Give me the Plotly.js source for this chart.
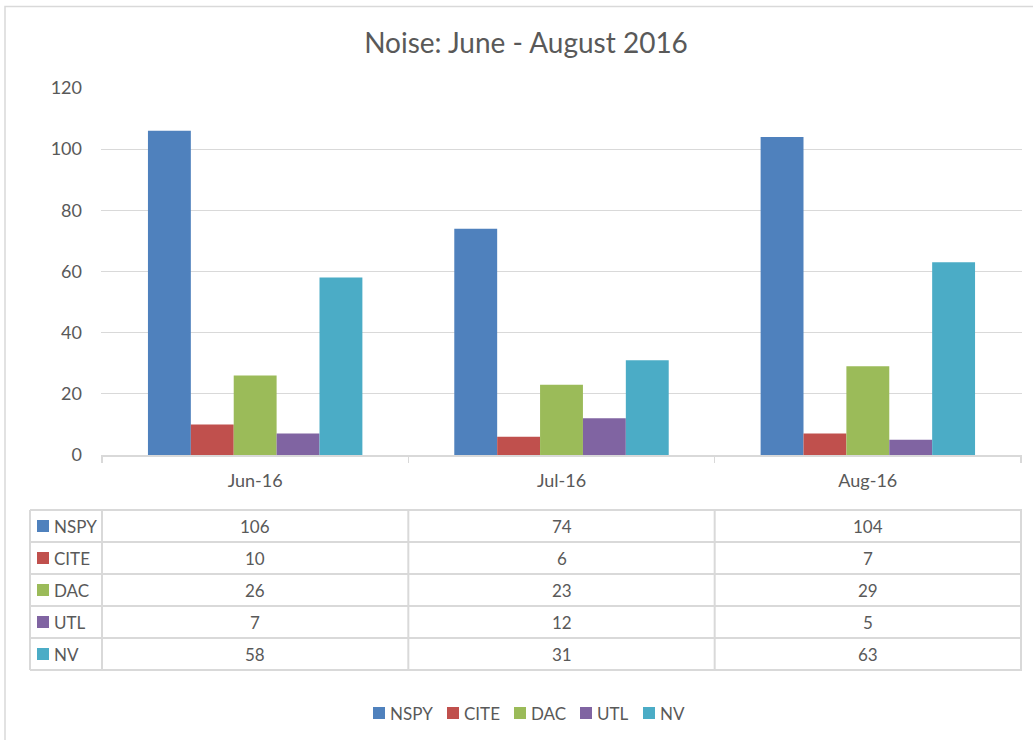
<!DOCTYPE html>
<html>
<head>
<meta charset="utf-8">
<script src="https://cdn.plot.ly/plotly-3.0.1.min.js"></script>
<style>html,body{margin:0;padding:0;background:#fff;}#chart{width:1033px;height:740px;}</style>
</head>
<body>
<div id="chart"></div>
<script>
// ---- data ----
var categories = ["Jun-16", "Jul-16", "Aug-16"];
var seriesNames = ["NSPY", "CITE", "DAC", "UTL", "NV"];
var NSPY = [106, 74, 104];
var CITE = [10, 6, 7];
var DAC = [26, 23, 29];
var UTL = [7, 12, 5];
var NV = [58, 31, 63];
var yTicks = [0, 20, 40, 60, 80, 100, 120];
var titleText = "Noise: June - August 2016";

// ---- styles ----
var colors = ["#4F81BD", "#C0504D", "#9BBB59", "#8064A2", "#4BACC6"];
var seriesValues = [NSPY, CITE, DAC, UTL, NV];
var FONT = "Lato, 'Open Sans', sans-serif";
var TXT = "#595959";
var GRID = "#D9D9D9";

var W = 1033, H = 740;
var L = 101, R = 11, T = 88, B = 285;
var plotW = W - L - R, plotH = H - T - B;
function px(x) { return (x - L) / plotW; }
function py(y) { return (H - B - y) / plotH; }

var traces = seriesNames.map(function (n, i) {
  return {
    type: "bar", name: n, x: categories, y: seriesValues[i],
    marker: { color: colors[i], line: { width: 0 } },
    showlegend: false, hoverinfo: "x+y+name"
  };
});

var shapes = [];
var annotations = [];

// chart outer border (top-left visible)
shapes.push({ type: "rect", xref: "paper", yref: "paper", x0: px(5), x1: px(1060), y0: py(6.5), y1: py(760),
  line: { color: GRID, width: 1.5 }, fillcolor: "rgba(0,0,0,0)", layer: "below" });

// data table
var rowTop = 510, rowH = 32, nRows = seriesNames.length;
var tableLeft = 30;
for (var k = 0; k <= nRows; k++) {
  shapes.push({ type: "line", xref: "paper", yref: "paper", x0: px(tableLeft), x1: 1, y0: py(rowTop + k * rowH), y1: py(rowTop + k * rowH),
    line: { color: GRID, width: 2 } });
}
shapes.push({ type: "line", xref: "paper", yref: "paper", x0: px(tableLeft), x1: px(tableLeft), y0: py(rowTop), y1: py(rowTop + nRows * rowH), line: { color: GRID, width: 2 } });
for (var j = 0; j <= categories.length; j++) {
  shapes.push({ type: "line", xref: "x", yref: "paper", x0: j - 0.5, x1: j - 0.5, y0: py(rowTop), y1: py(rowTop + nRows * rowH), line: { color: GRID, width: 2 } });
}
seriesNames.forEach(function (n, i) {
  var cy = rowTop + i * rowH + rowH / 2;
  shapes.push({ type: "rect", xref: "paper", yref: "paper", x0: px(37), x1: px(49), y0: py(cy - 6), y1: py(cy + 6),
    fillcolor: colors[i], line: { width: 0 } });
  annotations.push({ xref: "paper", yref: "paper", x: px(52), y: py(cy), xanchor: "left", yanchor: "middle", showarrow: false,
    text: n, font: { family: FONT, size: 17, color: TXT } });
  categories.forEach(function (c, j) {
    annotations.push({ xref: "x", yref: "paper", x: j, y: py(cy), xanchor: "center", yanchor: "middle", showarrow: false,
      text: String(seriesValues[i][j]), font: { family: FONT, size: 17, color: TXT } });
  });
});

// legend (bottom)
var legX = [373, 447, 514, 580, 643];
var legY = 713;
seriesNames.forEach(function (n, i) {
  shapes.push({ type: "rect", xref: "paper", yref: "paper", x0: px(legX[i]), x1: px(legX[i] + 12), y0: py(legY - 6), y1: py(legY + 6),
    fillcolor: colors[i], line: { width: 0 } });
  annotations.push({ xref: "paper", yref: "paper", x: px(legX[i] + 15), y: py(legY), xanchor: "left", yanchor: "middle", showarrow: false,
    text: n, font: { family: FONT, size: 17, color: TXT } });
});

var layout = {
  width: W, height: H,
  margin: { l: L, r: R, t: T, b: B, pad: 0 },
  paper_bgcolor: "#ffffff", plot_bgcolor: "#ffffff",
  font: { family: FONT, size: 17, color: TXT },
  title: { text: titleText, font: { family: FONT, size: 28, color: TXT }, x: 526 / W, xanchor: "center", y: 1 - 43 / H, yanchor: "middle", yref: "container" },
  barmode: "group", bargap: 0.3, bargroupgap: 0,
  xaxis: {
    type: "category", showgrid: false, zeroline: false, showline: true, linecolor: GRID, linewidth: 1.5,
    ticks: "outside", tickson: "boundaries", ticklen: 6, tickcolor: GRID, tickwidth: 1.5,
    tickfont: { family: FONT, size: 18, color: TXT }, ticklabelstandoff: 9, fixedrange: true
  },
  yaxis: {
    range: [0, 120], tickvals: yTicks, ticktext: yTicks.map(String), showgrid: true, gridcolor: GRID, gridwidth: 1.2,
    zeroline: false, showline: false, ticks: "", tickfont: { family: FONT, size: 18, color: TXT }, ticklabelstandoff: 18, fixedrange: true
  },
  shapes: shapes, annotations: annotations, showlegend: false
};

Plotly.newPlot("chart", traces, layout, { displayModeBar: false, staticPlot: true });
</script>
</body>
</html>
